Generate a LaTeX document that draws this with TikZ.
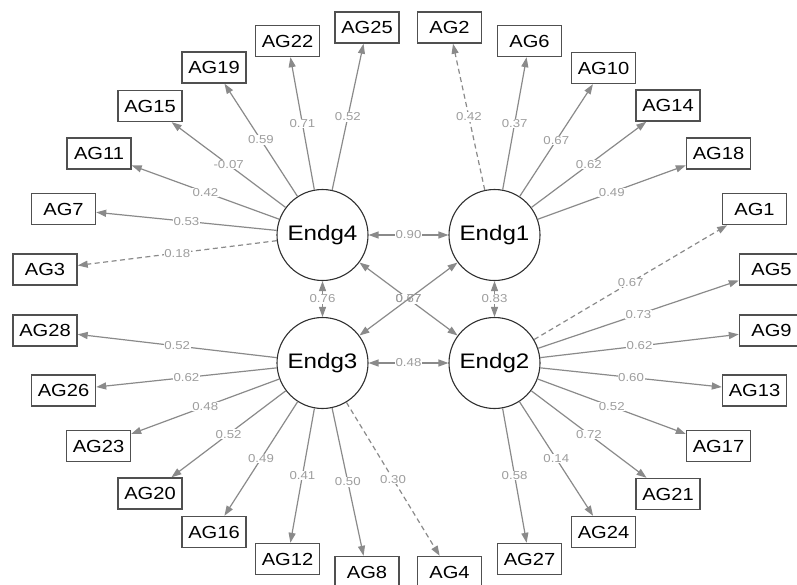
\documentclass[tikz,border=0pt]{standalone}
\usepackage{fontspec}
\setmainfont{Liberation Sans}[FakeStretch=1.15]
\usetikzlibrary{arrows.meta}
\definecolor{edgec}{HTML}{8A8A8A}
\definecolor{labc}{HTML}{9E9E9E}
\definecolor{boxc}{HTML}{505050}
\definecolor{circc}{HTML}{303030}
\begin{document}
\begin{tikzpicture}[x=1pt,y=-1pt,
  lat/.style={circle, draw=circc, line width=1.1pt, minimum size=91pt, inner sep=0pt, font=\fontsize{21}{24}\selectfont},
  obs/.style={rectangle, draw=boxc, line width=1.4pt, minimum width=64pt, minimum height=31pt, inner sep=0pt, font=\fontsize{17.5}{20}\selectfont},
  ed/.style={draw=edgec, line width=1.2pt, -{Triangle[length=10pt,width=7pt]}},
  cov/.style={draw=edgec, line width=1.2pt, {Triangle[length=10pt,width=7pt]}-{Triangle[length=10pt,width=7pt]}},
  dsh/.style={dash pattern=on 5pt off 3.5pt},
  lab/.style={fill=white, inner sep=0.6pt, text=labc, font=\fontsize{11.5}{13}\selectfont}]
\useasboundingbox (0,0) rectangle (797,584);
% latent variables
\node[lat] (E4) at (322.5,235) {Endg4};
\node[lat] (E1) at (494.5,235) {Endg1};
\node[lat] (E3) at (322.5,363) {Endg3};
\node[lat] (E2) at (494.5,363) {Endg2};
% observed
\node[obs] (AG25) at (367,27.5) {AG25};
\node[obs] (AG22) at (287.5,41) {AG22};
\node[obs] (AG19) at (214,67.5) {AG19};
\node[obs] (AG15) at (150,106) {AG15};
\node[obs] (AG11) at (99,153.5) {AG11};
\node[obs] (AG7) at (63.5,209) {AG7};
\node[obs] (AG3) at (45,269.5) {AG3};
\node[obs] (AG28) at (45,330.5) {AG28};
\node[obs] (AG26) at (63.5,390.5) {AG26};
\node[obs] (AG23) at (98.5,446) {AG23};
\node[obs] (AG20) at (150,493.5) {AG20};
\node[obs] (AG16) at (214,532) {AG16};
\node[obs] (AG12) at (287.5,559) {AG12};
\node[obs] (AG8) at (367,572) {AG8};
\node[obs] (AG4) at (449.5,572) {AG4};
\node[obs] (AG27) at (529.5,559) {AG27};
\node[obs] (AG24) at (603.5,532) {AG24};
\node[obs] (AG21) at (668,494) {AG21};
\node[obs] (AG17) at (718.5,446) {AG17};
\node[obs] (AG13) at (754.5,390.5) {AG13};
\node[obs] (AG9) at (771.5,330.5) {AG9};
\node[obs] (AG5) at (771.5,269.5) {AG5};
\node[obs] (AG1) at (754.5,209) {AG1};
\node[obs] (AG18) at (718.5,153.5) {AG18};
\node[obs] (AG14) at (668,105.5) {AG14};
\node[obs] (AG10) at (603.5,68) {AG10};
\node[obs] (AG6) at (529.5,41) {AG6};
\node[obs] (AG2) at (449.5,27.5) {AG2};
% Endg4 loadings
\draw[ed] (E4) -- node[lab]{0.52} (AG25);
\draw[ed] (E4) -- node[lab]{0.71} (AG22);
\draw[ed] (E4) -- node[lab]{0.59} (AG19);
\draw[ed] (E4) -- node[lab]{-0.07} (AG15);
\draw[ed] (E4) -- node[lab]{0.42} (AG11);
\draw[ed] (E4) -- node[lab]{0.53} (AG7);
\draw[ed,dsh] (E4) -- node[lab]{0.18} (AG3);
% Endg1 loadings
\draw[ed,dsh] (E1) -- node[lab]{0.42} (AG2);
\draw[ed] (E1) -- node[lab]{0.37} (AG6);
\draw[ed] (E1) -- node[lab]{0.67} (AG10);
\draw[ed] (E1) -- node[lab]{0.62} (AG14);
\draw[ed] (E1) -- node[lab]{0.49} (AG18);
% Endg2 loadings
\draw[ed,dsh] (E2) -- node[lab]{0.67} (AG1);
\draw[ed] (E2) -- node[lab]{0.73} (AG5);
\draw[ed] (E2) -- node[lab]{0.62} (AG9);
\draw[ed] (E2) -- node[lab]{0.60} (AG13);
\draw[ed] (E2) -- node[lab]{0.52} (AG17);
\draw[ed] (E2) -- node[lab]{0.72} (AG21);
\draw[ed] (E2) -- node[lab]{0.14} (AG24);
\draw[ed] (E2) -- node[lab]{0.58} (AG27);
% Endg3 loadings
\draw[ed] (E3) -- node[lab]{0.52} (AG28);
\draw[ed] (E3) -- node[lab]{0.62} (AG26);
\draw[ed] (E3) -- node[lab]{0.48} (AG23);
\draw[ed] (E3) -- node[lab]{0.52} (AG20);
\draw[ed] (E3) -- node[lab]{0.49} (AG16);
\draw[ed] (E3) -- node[lab]{0.41} (AG12);
\draw[ed] (E3) -- node[lab]{0.50} (AG8);
\draw[ed,dsh] (E3) -- node[lab]{0.30} (AG4);
% covariances
\draw[cov] (E4) -- node[lab]{0.90} (E1);
\draw[cov] (E4) -- node[lab]{0.76} (E3);
\draw[cov] (E1) -- node[lab]{0.83} (E2);
\draw[cov] (E3) -- node[lab]{0.48} (E2);
\draw[cov] (E4) -- node[lab]{0.67} (E2);
\draw[cov] (E1) -- node[lab, fill=none]{0.77} (E3);
\end{tikzpicture}
\end{document}
